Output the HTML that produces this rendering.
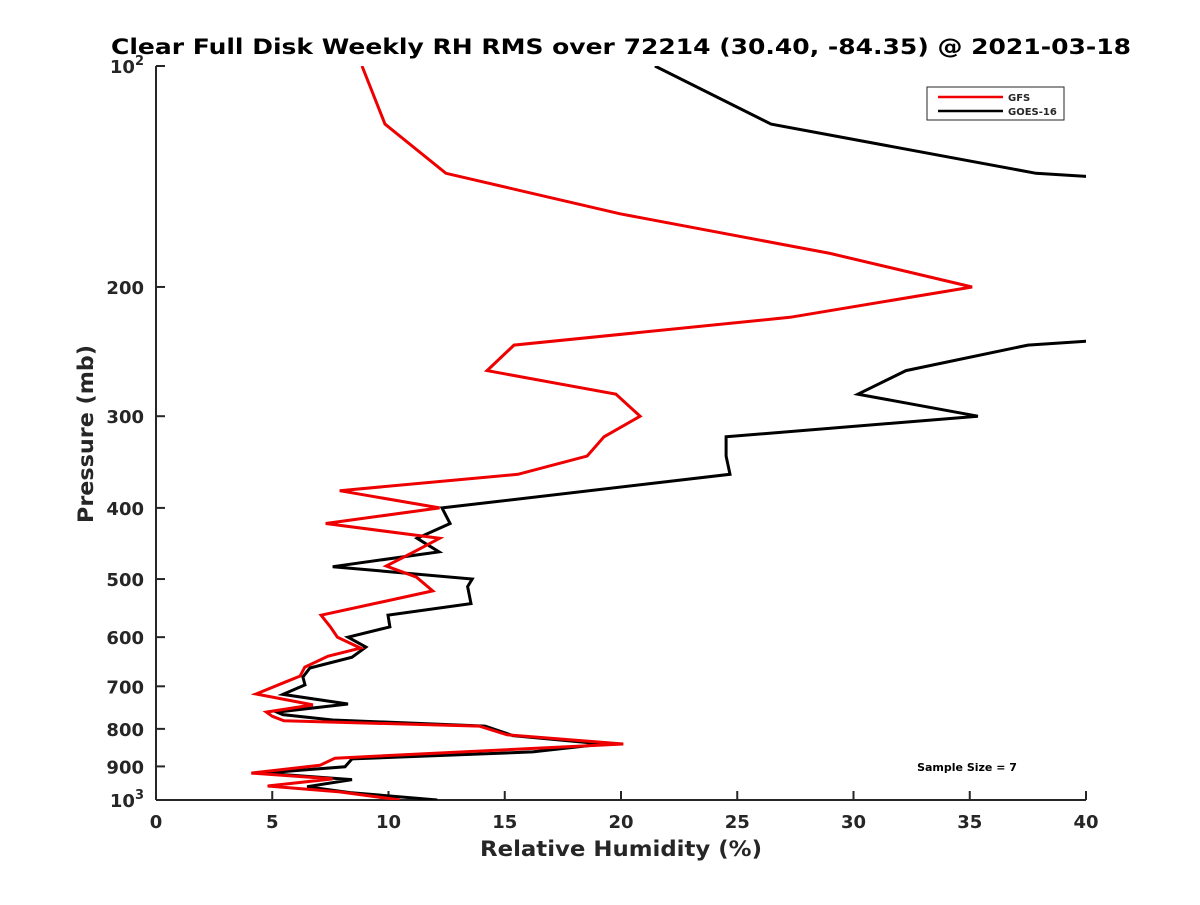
<!DOCTYPE html>
<html><head><meta charset="utf-8"><style>
html,body{margin:0;padding:0;background:#fff}
svg text{font-family:"DejaVu Sans",sans-serif;font-weight:bold;fill:#262626}
</style></head><body>
<svg id="chart" width="1200" height="900" viewBox="0 0 1200 900" xmlns="http://www.w3.org/2000/svg">
<defs><clipPath id="clip"><rect x="156" y="66" width="930" height="734"/></clipPath></defs>
<text x="621" y="54" text-anchor="middle" font-size="21" textLength="1020" lengthAdjust="spacingAndGlyphs" style="fill:#000">Clear Full Disk Weekly RH RMS over 72214 (30.40, -84.35) @ 2021-03-18</text>
<g id="axes"></g>
<g id="series" clip-path="url(#clip)"></g>
<text x="621" y="856" text-anchor="middle" font-size="21" textLength="282" lengthAdjust="spacingAndGlyphs">Relative Humidity (%)</text>
<text transform="translate(93,434) rotate(-90)" text-anchor="middle" font-size="21" textLength="178" lengthAdjust="spacingAndGlyphs">Pressure (mb)</text>
<g>
<rect x="927" y="87" width="137" height="33" fill="#fff" stroke="#262626" stroke-width="1"/>
<line x1="938" y1="97" x2="1003" y2="97" stroke="#e00" stroke-width="2.5"/>
<text x="1008" y="101" font-size="10">GFS</text>
<line x1="938" y1="111" x2="1003" y2="111" stroke="#000" stroke-width="2.5"/>
<text x="1008" y="115" font-size="10">GOES-16</text>
</g>
<text x="967" y="771" text-anchor="middle" font-size="11" style="fill:#000">Sample Size = 7</text>
</svg>
<script>
const gfsPressure=[100,120,140,159,180,200,220,240,260,280,300,320,340,360,379,400,420,440,459,480,497,519,560,581,600,621,637,659,678,690,717,742,759,769,780,793,815,839,877,897,919,936,957,975,1000];
const gfsRH=[8.86,9.85,12.47,19.96,28.99,35.1,27.27,15.4,14.24,19.78,20.82,19.27,18.54,15.57,7.9,12.2,7.3,12.2,11.1,9.9,11.2,11.9,7.1,7.5,7.8,8.8,7.4,6.4,6.2,5.6,4.3,6.75,4.75,5.0,5.5,13.9,15.1,20.1,7.7,7.05,4.1,7.6,4.8,7.9,10.5];
const goesPressure=[100,120,140,142,236,240,260,280,300,320,340,360,400,420,440,459,481,500,512,540,560,581,600,619,639,661,680,697,718,740,759,765,778,793,817,839,860,879,901,919,938,959,977,1000];
const goesRH=[21.46,26.45,37.85,41,41,37.5,32.26,30.19,35.35,24.52,24.52,24.69,12.3,12.65,11.23,12.17,7.6,13.6,13.4,13.55,9.98,10.06,8.26,9.03,8.43,6.62,6.32,6.41,5.46,8.26,5.2,5.46,7.6,14.15,15.35,19.23,16.2,8.43,8.13,4.6,8.43,6.5,8.34,12.1];
const xTicks=[0,5,10,15,20,25,30,35,40];
const yTicks=[100,200,300,400,500,600,700,800,900,1000];
const yTickLabels=["10^2","200","300","400","500","600","700","800","900","10^3"];
const NS="http://www.w3.org/2000/svg";
const X0=156,X1=1086,Y0=66,Y1=800;
function sx(v){return X0+(v/40)*(X1-X0);}
function sy(p){return Y0+Math.log10(p/100)*(Y1-Y0);}
function mk(tag,attrs,parent){const e=document.createElementNS(NS,tag);for(const k in attrs)e.setAttribute(k,attrs[k]);parent.appendChild(e);return e;}
const axes=document.getElementById('axes');
const xa=mk('line',{x1:X0,y1:Y1,x2:X1,y2:Y1,stroke:'#262626','stroke-width':2},axes);


const ya=mk('line',{x1:X0,y1:Y0,x2:X0,y2:Y1,stroke:'#262626','stroke-width':2},axes);


xTicks.forEach(v=>{
  mk('line',{x1:sx(v),y1:Y1,x2:sx(v),y2:Y1-9,stroke:'#262626','stroke-width':2},axes);
  const t=mk('text',{x:sx(v),y:828,'text-anchor':'middle','font-size':18},axes);
  t.textContent=v;
  
  
});
yTicks.forEach((p,i)=>{
  mk('line',{x1:X0,y1:sy(p),x2:X0+9,y2:sy(p),stroke:'#262626','stroke-width':2},axes);
  const lab=yTickLabels[i];
  const t=mk('text',{x:144,y:sy(p)+7,'text-anchor':'end','font-size':18},axes);
  
  
  if(lab.indexOf('^')>=0){
    const parts=lab.split('^');
    const a=mk('tspan',{},t);a.textContent=parts[0];
    const b=mk('tspan',{dy:-8,'font-size':13},t);b.textContent=parts[1];
  } else t.textContent=lab;
});
const series=document.getElementById('series');
function line(ps,vs,color,name){
  const d=ps.map((p,i)=>(i?'L':'M')+sx(vs[i]).toFixed(1)+','+sy(p).toFixed(1)).join(' ');
  const path=mk('path',{d:d,fill:'none',stroke:color,'stroke-width':3,'stroke-linejoin':'miter'},series);
  
  
}
line(goesPressure,goesRH,'#000','goes16-line');
line(gfsPressure,gfsRH,'#e00','gfs-line');
</script>
</body></html>
